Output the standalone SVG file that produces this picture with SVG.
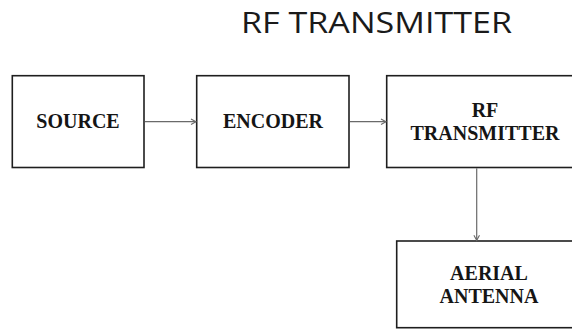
<svg xmlns="http://www.w3.org/2000/svg" width="572" height="331" viewBox="0 0 572 331">
  <style>
    .box { fill: #ffffff; stroke: #1e1e1e; stroke-width: 1.6; }
    .lbl { font-family: "Liberation Serif", "Times New Roman", serif; font-weight: bold; font-size: 20px; fill: #151515; text-anchor: middle; }
    .title { font-family: "Open Sans", "Liberation Sans", sans-serif; font-size: 29px; fill: #1a1a1a; }
    .wire { stroke: #6a6a6a; stroke-width: 1.2; fill: none; marker-end: url(#chev); }
  </style>
  <defs>
    <marker id="chev" markerWidth="8" markerHeight="8" refX="6" refY="4" orient="auto" markerUnits="userSpaceOnUse">
      <path d="M1,1.2 L6,4 L1,6.8" fill="none" stroke="#6a6a6a" stroke-width="1.1"/>
    </marker>
  </defs>
  <rect width="572" height="331" fill="#ffffff"/>

  <text class="title" x="241" y="32.7" textLength="271" lengthAdjust="spacingAndGlyphs">RF TRANSMITTER</text>

  <g id="source">
    <rect class="box" x="12.3" y="75.7" width="131.7" height="91.8"/>
    <text class="lbl" x="78" y="127.5">SOURCE</text>
  </g>
  <g id="encoder">
    <rect class="box" x="196.7" y="75.7" width="152.3" height="91.8"/>
    <text class="lbl" x="273" y="127.5">ENCODER</text>
  </g>
  <g id="rf-transmitter">
    <rect class="box" x="386.7" y="75.7" width="196" height="91.8"/>
    <text class="lbl" x="485" y="116.7">RF</text>
    <text class="lbl" x="485" y="140">TRANSMITTER</text>
  </g>
  <g id="aerial-antenna">
    <rect class="box" x="396.7" y="241" width="186" height="86.7"/>
    <text class="lbl" x="489" y="280">AERIAL</text>
    <text class="lbl" x="489" y="302.7">ANTENNA</text>
  </g>

  <g id="connectors">
    <line class="wire" x1="145" y1="121.7" x2="196" y2="121.7"/>
    <line class="wire" x1="350" y1="121.7" x2="386" y2="121.7"/>
    <line class="wire" x1="476.7" y1="168.3" x2="476.7" y2="240.3"/>
  </g>
</svg>
